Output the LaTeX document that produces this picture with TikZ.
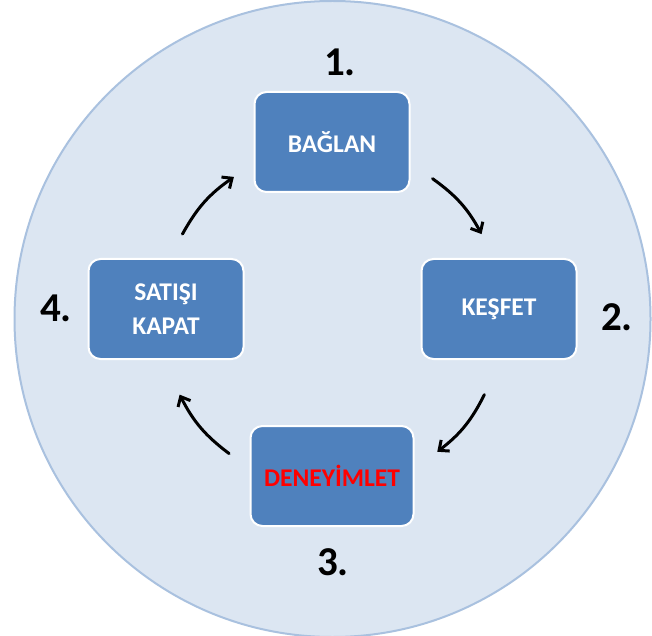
\documentclass[tikz,border=0pt]{standalone}
\usepackage{fontspec}
\setmainfont{Carlito}
\usetikzlibrary{arrows.meta,calc}
\definecolor{boxblue}{HTML}{4F81BD}
\definecolor{circfill}{HTML}{DCE6F2}
\definecolor{circline}{HTML}{A9C1DF}
\definecolor{redtext}{HTML}{FF0000}
\begin{document}
\begin{tikzpicture}[x=1pt,y=1pt,
  stepbox/.style={draw=white, line width=2pt, fill=boxblue, rounded corners=12pt,
    minimum width=155pt, minimum height=100pt, text=white,
    font=\fontsize{25.5}{34}\selectfont\bfseries, align=center, inner sep=0pt},
  num/.style={font=\fontsize{41}{41}\selectfont\bfseries, inner sep=0pt, text=black},
  arr/.style={line width=3pt, line cap=round, -{Straight Barb[length=8pt,width=14pt,line width=3pt]}}]
\useasboundingbox (0,0) rectangle (652,635);
\clip (0,0) rectangle (652,635);
\fill[white] (0,0) rectangle (652,635);
\draw[fill=circfill, draw=circline, line width=2pt] (332.5,316) circle (318);
% boxes
\node[stepbox] (b1) at (332,493) {BAĞLAN};
\node[stepbox] (b2) at (499,326) {KEŞFET};
\node[stepbox, text=redtext, minimum width=163pt] (b3) at (332,159) {DENEYİMLET};
\node[stepbox] (b4) at (166,326) {SATIŞI\\KAPAT};
% numbers
\node[num] (n1) at (340,573) {1.};
\node[num] (n2) at (617,318) {2.};
\node[num] (n3) at (333,73) {3.};
\node[num] (n4) at (56,327) {4.};
% arrows
\coordinate (ac) at (332,318);
\coordinate (a1s) at ($(ac)+(151:171)$);
\coordinate (a1e) at ($(ac)+(125:171)$);
\coordinate (a2s) at ($(ac)+(54:171)$);
\coordinate (a2e) at ($(ac)+(29:171)$);
\coordinate (a3s) at ($(ac)+(-27:171)$);
\coordinate (a3e) at ($(ac)+(-52:171)$);
\coordinate (a4s) at ($(ac)+(233:171)$);
\coordinate (a4e) at ($(ac)+(207:171)$);
\draw[arr] (a1s) to[bend left=13] (a1e);
\draw[arr] (a2s) to[bend left=13] (a2e);
\draw[arr] (a3s) to[bend left=13] (a3e);
\draw[arr] (a4s) to[bend left=13] (a4e);
\end{tikzpicture}
\end{document}
